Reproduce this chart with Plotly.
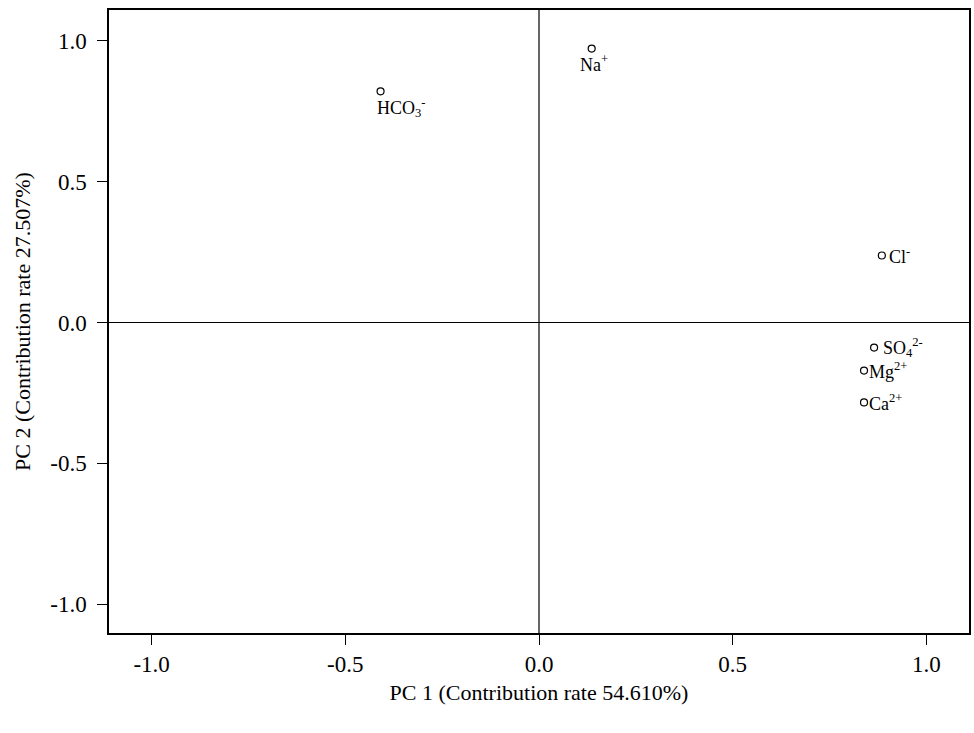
import plotly.graph_objects as go

labels = ["HCO<sub>3</sub><sup>-</sup>", "Na<sup>+</sup>", "Cl<sup>-</sup>",
          "SO<sub>4</sub><sup>2-</sup>", "Mg<sup>2+</sup>", "Ca<sup>2+</sup>"]
pc1 = [-0.409, 0.136, 0.885, 0.865, 0.839, 0.839]
pc2 = [0.821, 0.973, 0.238, -0.089, -0.171, -0.284]
tick_vals = [-1.0, -0.5, 0.0, 0.5, 1.0]
tick_text = ["-1.0", "-0.5", "0.0", "0.5", "1.0"]

# label placement (style): xanchor, yanchor, xshift, yshift
label_style = [("left", "middle", -6, -16), ("center", "middle", 2, -15),
               ("left", "middle", 5, 0), ("left", "middle", 7, 0),
               ("left", "middle", 3, 0), ("left", "middle", 3, 0)]

FONT = "Liberation Serif"
fig = go.Figure()
fig.add_trace(go.Scatter(x=pc1, y=pc2, mode="markers",
                         marker=dict(symbol="circle-open", size=7, color="black",
                                     line=dict(width=1.2, color="black")),
                         hoverinfo="skip", showlegend=False))
for lab, x, y, (xa, ya, xs, ys) in zip(labels, pc1, pc2, label_style):
    fig.add_annotation(x=x, y=y, text=lab, showarrow=False, xanchor=xa, yanchor=ya,
                       xshift=xs, yshift=ys, font=dict(family=FONT, size=18, color="black"))

fig.add_shape(type="line", xref="x", yref="paper", x0=0, x1=0, y0=0, y1=1,
              line=dict(color="black", width=1.2))
fig.add_shape(type="line", xref="paper", yref="y", x0=0, x1=1, y0=0, y1=0,
              line=dict(color="black", width=1.2))

axis_common = dict(showgrid=False, zeroline=False, showline=True, linecolor="black",
                   linewidth=1.5, mirror=True, ticks="outside", ticklen=10,
                   tickcolor="black", tickwidth=1.2, tickvals=tick_vals, ticktext=tick_text,
                   tickfont=dict(family=FONT, size=23, color="black"))
fig.update_xaxes(range=[-1.11, 1.11], ticklabelstandoff=0,
                 title=dict(text="PC 1 (Contribution rate 54.610%)",
                            font=dict(family=FONT, size=22, color="black"), standoff=8),
                 **axis_common)
fig.update_yaxes(range=[-1.103, 1.11], ticklabelstandoff=6,
                 title=dict(text="PC 2 (Contribution rate 27.507%)",
                            font=dict(family=FONT, size=22, color="black"), standoff=14),
                 **axis_common)
fig.update_layout(width=974, height=733, plot_bgcolor="white", paper_bgcolor="white",
                  margin=dict(l=109, r=3, t=10, b=100))
fig.write_html("out.html")
